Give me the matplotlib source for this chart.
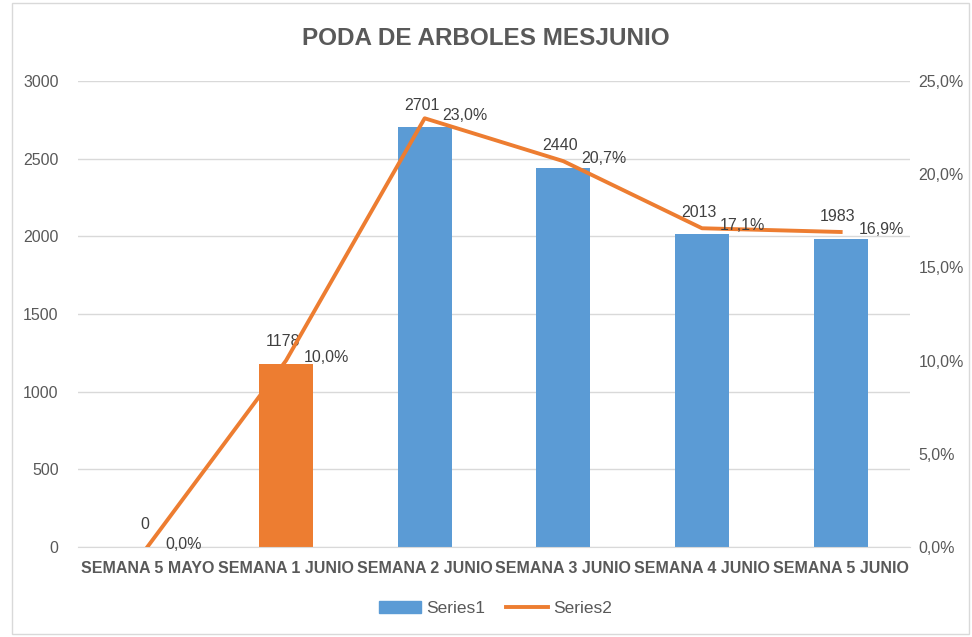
import matplotlib.pyplot as plt
from matplotlib.patches import Rectangle
from matplotlib.lines import Line2D

plt.rcParams['font.family'] = ['Liberation Sans', 'DejaVu Sans']

semanas = ['SEMANA 5 MAYO', 'SEMANA 1 JUNIO', 'SEMANA 2 JUNIO',
           'SEMANA 3 JUNIO', 'SEMANA 4 JUNIO', 'SEMANA 5 JUNIO']
arboles = [0, 1178, 2701, 2440, 2013, 1983]
porcentaje = [0.0, 10.0, 23.0, 20.7, 17.1, 16.9]

azul = '#5B9BD5'
naranja = '#ED7D31'
gris = '#595959'

fig = plt.figure(figsize=(9.72, 6.37), dpi=100)
ax = fig.add_axes([78 / 972, 90 / 637, 832 / 972, 466 / 637])
ax2 = ax.twinx()

x = list(range(len(semanas)))
colores = [azul, naranja, azul, azul, azul, azul]
ax.bar(x, arboles, width=0.39, color=colores, zorder=2)
ax.set_xlim(-0.5, len(semanas) - 0.5)
ax.set_ylim(0, 3000)
ax.set_yticks(range(0, 3001, 500))
ax.grid(axis='y', color='#D9D9D9', linewidth=1)
ax.set_axisbelow(True)
ax.set_xticks(x)
ax.set_xticklabels(semanas, fontsize=11.5, color=gris, fontweight='bold')
ax.tick_params(axis='y', length=0, pad=14, labelsize=11.5, labelcolor=gris)
ax.tick_params(axis='x', length=0, pad=10)
for s in ax.spines.values():
    s.set_visible(False)
ax.spines['bottom'].set_visible(True)
ax.spines['bottom'].set_color('#D9D9D9')

ax2.plot(x, porcentaje, color=naranja, linewidth=2.8, zorder=3)
ax2.set_ylim(0, 25)
ax2.set_yticks(range(0, 26, 5))
ax2.set_yticklabels([f'{v:.1f}%'.replace('.', ',') for v in range(0, 26, 5)])
ax2.tick_params(axis='y', length=0, pad=6, labelsize=11.5, labelcolor=gris)
for s in ax2.spines.values():
    s.set_visible(False)

# etiquetas de datos
for xi, v in zip(x, arboles):
    ax.annotate(str(v), (xi, v), xytext=(-2, 16), textcoords='offset points',
                ha='center', va='center', fontsize=11.5, color='#404040')
for xi, p in zip(x, porcentaje):
    ax2.annotate(f'{p:.1f}%'.replace('.', ','), (xi, p), xytext=(13, 2),
                 textcoords='offset points', ha='left', va='center',
                 fontsize=11.5, color='#404040')

fig.text(0.5, 0.94, 'PODA DE ARBOLES MESJUNIO', ha='center', va='center',
         fontsize=17.5, fontweight='bold', color=gris)

handles = [Rectangle((0, 0), 1, 1, color=azul),
           Line2D([], [], color=naranja, linewidth=2.8)]
fig.legend(handles, ['Series1', 'Series2'], loc='center', ncol=2,
           bbox_to_anchor=(0.51, 0.045), frameon=False, fontsize=12.5,
           labelcolor=gris, handlelength=2.4, columnspacing=1.2,
           handletextpad=0.3)

# marco del grafico
fig.patches.append(Rectangle((0.012, 0.005), 0.985, 0.99, transform=fig.transFigure,
                             fill=False, edgecolor='#D9D9D9', linewidth=1))

fig.savefig('out.png', dpi=100)
